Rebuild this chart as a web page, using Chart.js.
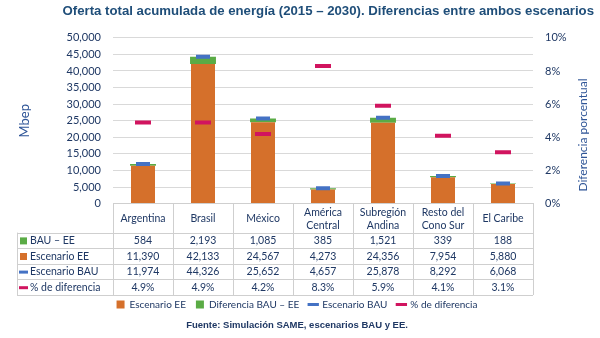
<!DOCTYPE html>
<html>
<head>
<meta charset="utf-8">
<script src="https://cdn.jsdelivr.net/npm/chart.js@4.4.1/dist/chart.umd.min.js"></script>
<style>
  html, body { margin: 0; padding: 0; background: #ffffff; }
  #wrap { width: 600px; height: 338px; position: relative; }
</style>
</head>
<body>
<div id="wrap"><canvas id="ofertaChart"></canvas></div>
<script>
// 지역 / 시나리오별 누적 에너지 공급 (Mbep)
const regiones = ['Argentina', 'Brasil', 'México', ['América', 'Central'], ['Subregión', 'Andina'], ['Resto del', 'Cono Sur'], 'El Caribe'];
const escenarioEE = [11390, 42133, 24567, 4273, 24356, 7954, 5880];
const difBauEE = [584, 2193, 1085, 385, 1521, 339, 188];
const escenarioBAU = [11974, 44326, 25652, 4657, 25878, 8292, 6068];
const pctDiferencia = [4.9, 4.9, 4.2, 8.3, 5.9, 4.1, 3.1];

const colores = {
    naranja: '#d5702b',
    verde: '#5aab45',
    azul: '#4472c4',
    rosa: '#d1145f',
    texto: '#1f3864',
    tituloEje: '#2f5597',
    grid: '#d9d9d9',
    borde: '#cfcfcf'
};
const fuente = 'Lato, "Open Sans", sans-serif';

const fmtNum = v => v.toLocaleString('en-US');
const fmtPct = v => v.toFixed(1) + '%';

// 차트 아래 데이터 표 + 오른쪽 축 제목
const tablaPlugin = {
    id: 'tablaDatos',
    afterDraw(chart) {
        const ctx = chart.ctx;
        const area = chart.chartArea;
        const xs = chart.scales.x;
        const colW = (area.right - area.left) / regiones.length;
        const izq = 17;
        const altoHeader = 29;
        const altoFila = 15.6;
        const filas = [
            { label: 'BAU – EE', color: colores.verde, marca: 'cuadro', valores: difBauEE.map(fmtNum) },
            { label: 'Escenario EE', color: colores.naranja, marca: 'cuadro', valores: escenarioEE.map(fmtNum) },
            { label: 'Escenario BAU', color: colores.azul, marca: 'linea', valores: escenarioBAU.map(fmtNum) },
            { label: '% de diferencia', color: colores.rosa, marca: 'linea', valores: pctDiferencia.map(fmtPct) }
        ];
        const top = area.bottom;
        const filaTop = top + altoHeader;
        const fondo = filaTop + altoFila * filas.length;

        ctx.save();
        ctx.strokeStyle = colores.borde;
        ctx.lineWidth = 1;
        ctx.beginPath();
        // 가로선
        for (let i = 0; i <= filas.length; i++) {
            const y = Math.round(filaTop + altoFila * i) + 0.5;
            ctx.moveTo(izq, y);
            ctx.lineTo(area.right, y);
        }
        // 세로선 (헤더 포함)
        for (let i = 0; i <= regiones.length; i++) {
            const x = Math.round(area.left + colW * i) + 0.5;
            ctx.moveTo(x, top);
            ctx.lineTo(x, fondo);
        }
        ctx.moveTo(izq + 0.5, filaTop);
        ctx.lineTo(izq + 0.5, fondo);
        ctx.stroke();

        ctx.fillStyle = colores.texto;
        ctx.font = '10.5px ' + fuente;
        ctx.textAlign = 'center';
        ctx.textBaseline = 'middle';
        // 헤더 (지역명)
        regiones.forEach((r, i) => {
            const cx = xs.getPixelForValue(i);
            const lineas = Array.isArray(r) ? r : [r];
            const h = 13;
            const y0 = top + altoHeader / 2 + 1 - (lineas.length - 1) * h / 2;
            lineas.forEach((l, j) => ctx.fillText(l, cx, y0 + j * h));
        });
        // 데이터 행
        filas.forEach((f, k) => {
            const cy = filaTop + altoFila * k + altoFila / 2 + 0.5;
            ctx.fillStyle = f.color;
            if (f.marca === 'cuadro') {
                ctx.fillRect(izq + 3, cy - 3.5, 7, 7);
            } else {
                ctx.fillRect(izq + 2, cy - 1.5, 9, 3);
            }
            ctx.fillStyle = colores.texto;
            ctx.textAlign = 'left';
            ctx.fillText(f.label, izq + 13, cy);
            ctx.textAlign = 'center';
            f.valores.forEach((v, i) => ctx.fillText(v, xs.getPixelForValue(i), cy));
        });

        // 오른쪽 축 제목 (아래에서 위로)
        ctx.save();
        ctx.translate(583, 135);
        ctx.rotate(-Math.PI / 2);
        ctx.fillStyle = colores.tituloEje;
        ctx.font = '12px ' + fuente;
        ctx.textAlign = 'center';
        ctx.fillText('Diferencia porcentual', 0, 0);
        ctx.restore();
        ctx.restore();
    }
};

function renderOfertaChart() {
    const ctx = document.getElementById('ofertaChart').getContext('2d');
    new Chart(ctx, {
        type: 'bar',
        data: {
            labels: regiones,
            datasets: [
                {
                    label: 'Escenario EE',
                    data: escenarioEE,
                    backgroundColor: colores.naranja,
                    stack: 'oferta',
                    order: 2,
                    categoryPercentage: 0.8,
                    barPercentage: 0.5
                },
                {
                    label: 'Diferencia BAU – EE',
                    data: difBauEE,
                    backgroundColor: colores.verde,
                    stack: 'oferta',
                    order: 2,
                    categoryPercentage: 0.8,
                    barPercentage: 0.54
                },
                {
                    type: 'line',
                    label: 'Escenario BAU',
                    data: escenarioBAU,
                    stack: 'bau',
                    showLine: false,
                    pointStyle: 'line',
                    pointRadius: 7,
                    pointHoverRadius: 7,
                    pointBorderWidth: 4,
                    borderColor: colores.azul,
                    backgroundColor: colores.azul,
                    yAxisID: 'y',
                    order: 1
                },
                {
                    type: 'line',
                    label: '% de diferencia',
                    data: pctDiferencia,
                    showLine: false,
                    pointStyle: 'line',
                    pointRadius: 8,
                    pointHoverRadius: 8,
                    pointBorderWidth: 4,
                    borderColor: colores.rosa,
                    backgroundColor: colores.rosa,
                    yAxisID: 'y1',
                    order: 0
                }
            ]
        },
        options: {
            responsive: true,
            maintainAspectRatio: false,
            animation: false,
            layout: { padding: { left: 0, right: 6, top: 0, bottom: 7 } },
            scales: {
                x: {
                    stacked: true,
                    grid: { display: false },
                    border: { display: true, color: colores.borde },
                    ticks: { display: false },
                    afterFit: (scale) => { scale.height = 86; }
                },
                y: {
                    stacked: true,
                    min: 0,
                    max: 50000,
                    ticks: {
                        stepSize: 5000,
                        autoSkip: false,
                        color: colores.texto,
                        font: { family: fuente, size: 11 },
                        padding: 4,
                        callback: v => fmtNum(v)
                    },
                    grid: { color: colores.grid, drawTicks: true, tickLength: 8, tickColor: '#ffffff' },
                    border: { display: false },
                    title: {
                        display: true,
                        text: 'Mbep',
                        color: colores.tituloEje,
                        font: { family: fuente, size: 13 },
                        padding: { top: 17, bottom: 0 }
                    },
                    afterFit: (scale) => { scale.width = 113; }
                },
                y1: {
                    position: 'right',
                    min: 0,
                    max: 10,
                    ticks: {
                        stepSize: 2,
                        autoSkip: false,
                        color: colores.texto,
                        font: { family: fuente, size: 11 },
                        padding: 4,
                        callback: v => v + '%'
                    },
                    grid: { display: false },
                    border: { display: false },
                    afterFit: (scale) => { scale.width = 61; }
                }
            },
            plugins: {
                title: {
                    display: true,
                    text: 'Oferta total acumulada de energía (2015 – 2030). Diferencias entre ambos escenarios',
                    align: 'end',
                    color: '#1f4e79',
                    font: { family: '"Liberation Sans", Arial, sans-serif', size: 13.2, weight: 'bold' },
                    padding: { top: 3, bottom: 19 }
                },
                subtitle: {
                    display: true,
                    position: 'bottom',
                    text: 'Fuente: Simulación SAME, escenarios BAU y EE.',
                    color: colores.texto,
                    font: { family: '"Liberation Sans", Arial, sans-serif', size: 9.5, weight: 'bold' },
                    padding: { top: 0, bottom: 0 }
                },
                legend: {
                    position: 'bottom',
                    labels: {
                        usePointStyle: true,
                        boxWidth: 8,
                        boxHeight: 8,
                        padding: 10,
                        color: colores.texto,
                        font: { family: fuente, size: 10 },
                        generateLabels: () => [
                            { text: 'Escenario EE', fillStyle: colores.naranja, strokeStyle: colores.naranja, lineWidth: 0, pointStyle: 'rect', fontColor: colores.texto, datasetIndex: 0 },
                            { text: 'Diferencia BAU – EE', fillStyle: colores.verde, strokeStyle: colores.verde, lineWidth: 0, pointStyle: 'rect', fontColor: colores.texto, datasetIndex: 1 },
                            { text: 'Escenario BAU', fillStyle: colores.azul, strokeStyle: colores.azul, lineWidth: 3, pointStyle: 'line', fontColor: colores.texto, datasetIndex: 2 },
                            { text: '% de diferencia', fillStyle: colores.rosa, strokeStyle: colores.rosa, lineWidth: 3, pointStyle: 'line', fontColor: colores.texto, datasetIndex: 3 }
                        ]
                    }
                },
                tooltip: { enabled: true }
            }
        },
        plugins: [tablaPlugin]
    });
}

document.addEventListener('DOMContentLoaded', renderOfertaChart);
</script>
</body>
</html>
